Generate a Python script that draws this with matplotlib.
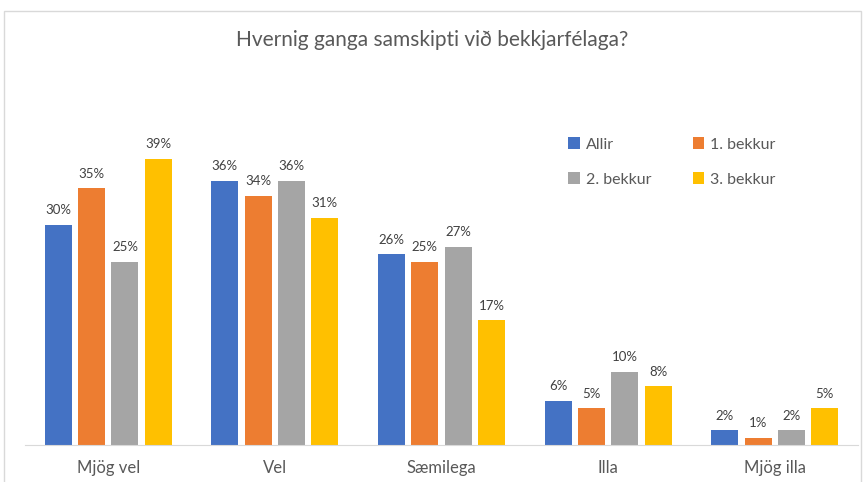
import numpy as np
import matplotlib.pyplot as plt
from matplotlib.patches import Rectangle

plt.rcParams['font.family'] = ['Lato', 'DejaVu Sans']

categories = ['Mjög vel', 'Vel', 'Sæmilega', 'Illa', 'Mjög illa']
series_names = ['Allir', '1. bekkur', '2. bekkur', '3. bekkur']
allir = [30, 36, 26, 6, 2]
bekkur1 = [35, 34, 25, 5, 1]
bekkur2 = [25, 36, 27, 10, 2]
bekkur3 = [39, 31, 17, 8, 5]
colors = ['#4472C4', '#ED7D31', '#A5A5A5', '#FFC000']
text_col = '#595959'

fig = plt.figure(figsize=(8.65, 4.82), dpi=100)
# chart frame
fig.patches.append(Rectangle((4 / 865, -0.05), 857 / 865, 1.05 - 11 / 482,
                             transform=fig.transFigure, fill=False,
                             edgecolor='#D9D9D9', linewidth=1))

ax = fig.add_axes([25 / 865, 37 / 482, 833 / 865, 345 / 482])
x = np.arange(len(categories))
width = 0.162
offsets = [-0.3, -0.1, 0.1, 0.3]
handles = []
for vals, name, col, off in zip([allir, bekkur1, bekkur2, bekkur3], series_names, colors, offsets):
    bars = ax.bar(x + off, vals, width, color=col, label=name)
    handles.append(bars)
    for b, v in zip(bars, vals):
        ax.text(b.get_x() + b.get_width() / 2, v + 1.2, f'{v}%', ha='center', va='bottom',
                fontsize=9.5, color='#404040')

ax.set_xlim(-0.5, 4.5)
ax.set_ylim(0, 47.06)
ax.set_yticks([])
ax.set_xticks(x)
ax.set_xticklabels(categories, fontsize=12, color=text_col)
ax.tick_params(axis='x', length=0, pad=11)
for s in ['top', 'right', 'left']:
    ax.spines[s].set_visible(False)
ax.spines['bottom'].set_color('#D9D9D9')

fig.text(0.5, 1 - 40 / 482, 'Hvernig ganga samskipti við bekkjarfélaga?', ha='center', va='center',
         fontsize=15, color=text_col)

# matplotlib fills legend columns first, so reorder to read row by row
order = [0, 2, 1, 3]
leg = ax.legend([handles[i] for i in order], [series_names[i] for i in order],
                loc='upper left', bbox_to_anchor=(0.635, 0.933), ncol=2, frameon=False,
                fontsize=11.5, handlelength=0.7, handleheight=0.7, handletextpad=0.4,
                columnspacing=2.6, labelspacing=1.3)
for t in leg.get_texts():
    t.set_color(text_col)

fig.savefig('out.png', dpi=100)
